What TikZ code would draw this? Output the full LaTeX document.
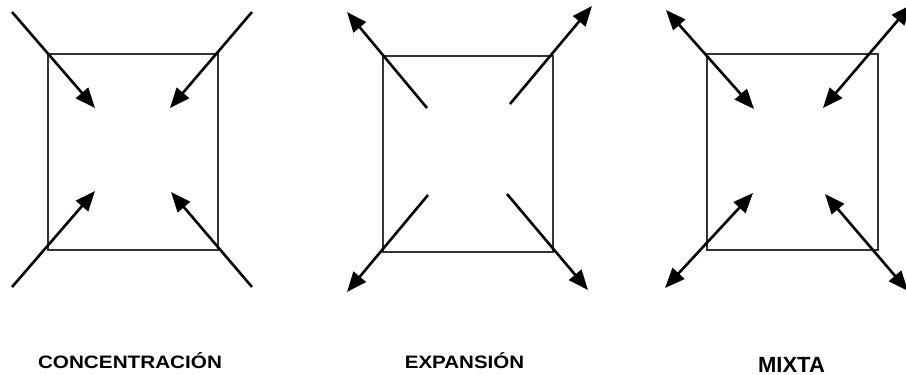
\documentclass[tikz,border=0pt]{standalone}
\usepackage{fontspec}
\setmainfont{Liberation Sans}
\usetikzlibrary{arrows.meta}
\definecolor{boxgray}{HTML}{333333}
\tikzset{
  frame/.style={draw=boxgray, line width=1.8pt},
  arr/.style={draw=black, line width=2.6pt, -{Triangle[length=20pt,width=16pt]}},
  darr/.style={draw=black, line width=2.6pt, {Triangle[length=20pt,width=16pt]}-{Triangle[length=20pt,width=16pt]}},
  lbl/.style={inner sep=0pt, anchor=base, font=\bfseries}
}
\begin{document}
\begin{tikzpicture}[x=1pt,y=-1pt]
\useasboundingbox (0,0) rectangle (906,375);
% Panel 1: CONCENTRACION
\node[frame, minimum width=170pt, minimum height=196pt, inner sep=0pt, anchor=north west] (sq1) at (47,53) {};
\coordinate (a1o) at (12,12);   \coordinate (a1i) at (95,108);
\coordinate (b1o) at (252,12);  \coordinate (b1i) at (170,108);
\coordinate (c1o) at (12,287);  \coordinate (c1i) at (95,191);
\coordinate (d1o) at (252,287); \coordinate (d1i) at (171,192);
\draw[arr] (a1o) -- (a1i);
\draw[arr] (b1o) -- (b1i);
\draw[arr] (c1o) -- (c1i);
\draw[arr] (d1o) -- (d1i);
% Panel 2: EXPANSION
\node[frame, minimum width=170pt, minimum height=196pt, inner sep=0pt, anchor=north west] (sq2) at (382,55) {};
\coordinate (a2i) at (427,108); \coordinate (a2o) at (347,12);
\coordinate (b2i) at (510,104); \coordinate (b2o) at (592,6);
\coordinate (c2i) at (428,195); \coordinate (c2o) at (347,292);
\coordinate (d2i) at (507,194); \coordinate (d2o) at (588,290);
\draw[arr] (a2i) -- (a2o);
\draw[arr] (b2i) -- (b2o);
\draw[arr] (c2i) -- (c2o);
\draw[arr] (d2i) -- (d2o);
% Panel 3: MIXTA
\node[frame, minimum width=171pt, minimum height=196pt, inner sep=0pt, anchor=north west] (sq3) at (706,53) {};
\coordinate (a3o) at (666,10);  \coordinate (a3i) at (754,109);
\coordinate (b3o) at (911,5);   \coordinate (b3i) at (823,108);
\coordinate (c3o) at (665,288); \coordinate (c3i) at (753,193);
\coordinate (d3o) at (908,291); \coordinate (d3i) at (825,194);
\draw[darr] (a3o) -- (a3i);
\draw[darr] (b3o) -- (b3i);
\draw[darr] (c3o) -- (c3i);
\draw[darr] (d3o) -- (d3i);
% Labels
\node[lbl] (l1) at (130,368) {\scalebox{1.15}[1]{\fontsize{18pt}{18pt}\selectfont CONCENTRACIÓN}};
\node[lbl] (l2) at (464.5,368) {\scalebox{1.14}[1]{\fontsize{18pt}{18pt}\selectfont EXPANSIÓN}};
\node[lbl] (l3) at (791.5,372) {\fontsize{22pt}{22pt}\selectfont MIXTA};
\end{tikzpicture}
\end{document}
